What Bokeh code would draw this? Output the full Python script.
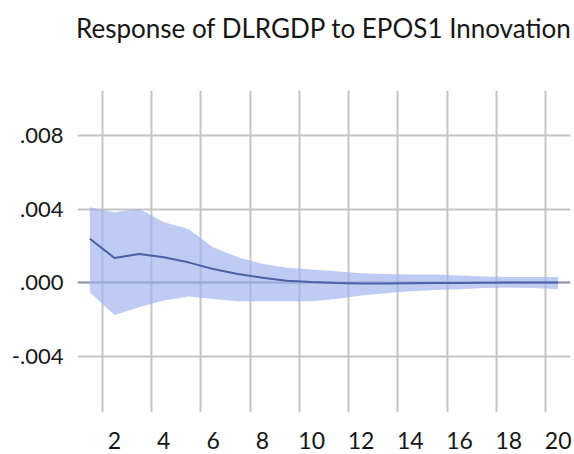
from bokeh.plotting import figure
from bokeh.models import FixedTicker, Range1d, ColumnDataSource, LinearAxis
from bokeh.embed import file_html
from bokeh.resources import INLINE

periods = list(range(1, 21))
response = [0.00238, 0.00134, 0.00156, 0.00138, 0.00110, 0.00074, 0.00047, 0.00026,
            0.00010, 0.00003, -0.00002, -0.00005, -0.00005, -0.00004, -0.00003,
            -0.00002, -0.00001, 0.00000, 0.00001, 0.00001]
upper = [0.00410, 0.00383, 0.00401, 0.00328, 0.00292, 0.00192, 0.00138, 0.00102,
         0.00080, 0.00071, 0.00062, 0.00051, 0.00047, 0.00044, 0.00044, 0.00038,
         0.00033, 0.00030, 0.00030, 0.00030]
lower = [-0.00053, -0.00176, -0.00134, -0.00098, -0.00076, -0.00089, -0.00102,
         -0.00102, -0.00102, -0.00102, -0.00089, -0.00071, -0.00058, -0.00047,
         -0.00040, -0.00036, -0.00030, -0.00027, -0.00030, -0.00036]
x_ticks = [2, 4, 6, 8, 10, 12, 14, 16, 18, 20]
x_grid = [1.5, 3.5, 5.5, 7.5, 9.5, 11.5, 13.5, 15.5, 17.5, 19.5]
y_ticks = [-0.004, 0.0, 0.004, 0.008]
y_labels = {-0.004: "-.004", 0.0: ".000", 0.004: ".004", 0.008: ".008"}
title_text = "Response of DLRGDP to EPOS1 Innovation"

src = ColumnDataSource(dict(x=periods, y=response, lo=lower, hi=upper))

p = figure(width=574, height=454, output_backend="svg", toolbar_location=None,
           x_range=Range1d(0.5, 20.5), y_range=Range1d(-0.00707, 0.01045),
           min_border_left=77, min_border_right=4, min_border_top=90, min_border_bottom=42)
p.outline_line_color = None
p.background_fill_color = "white"
p.border_fill_color = "white"

xax = p.below[0]
yax = p.left[0]

# title drawn as the label of a tick-less axis above the frame
title_axis = LinearAxis(ticker=FixedTicker(ticks=[]), axis_label=title_text,
                        axis_line_color=None, major_tick_line_color=None,
                        minor_tick_line_color=None, axis_label_standoff=47,
                        major_label_text_font_size="0px",
                        axis_label_text_font="Lato", axis_label_text_font_size="26px",
                        axis_label_text_font_style="normal", axis_label_text_color="#161616")
p.add_layout(title_axis, "above")

# grids
p.xgrid.ticker = FixedTicker(ticks=x_grid)
p.ygrid.ticker = FixedTicker(ticks=y_ticks)
for g in (p.xgrid, p.ygrid):
    g.grid_line_color = "#c4c4c4"
    g.grid_line_width = 2

# axes
xax.ticker = FixedTicker(ticks=x_ticks)
yax.ticker = FixedTicker(ticks=y_ticks)
yax.major_label_overrides = y_labels
for ax in (xax, yax):
    ax.axis_line_color = None
    ax.major_tick_line_color = None
    ax.minor_tick_line_color = None
    ax.major_label_text_font = "Lato"
    ax.major_label_text_color = "#161616"
xax.major_label_text_font_size = "23px"
yax.major_label_text_font_size = "22px"
xax.major_label_standoff = 13
yax.major_label_standoff = 8

# zero line
p.line(x=[0.5, 20.5], y=[0, 0], line_color="#9096b0", line_width=2)

p.varea(x="x", y1="lo", y2="hi", source=src, fill_color="#9fb3ee", fill_alpha=0.68)
p.line(x="x", y="y", source=src, line_color="#4a62a8", line_width=2)

open("out.html", "w").write(file_html(p, INLINE))
